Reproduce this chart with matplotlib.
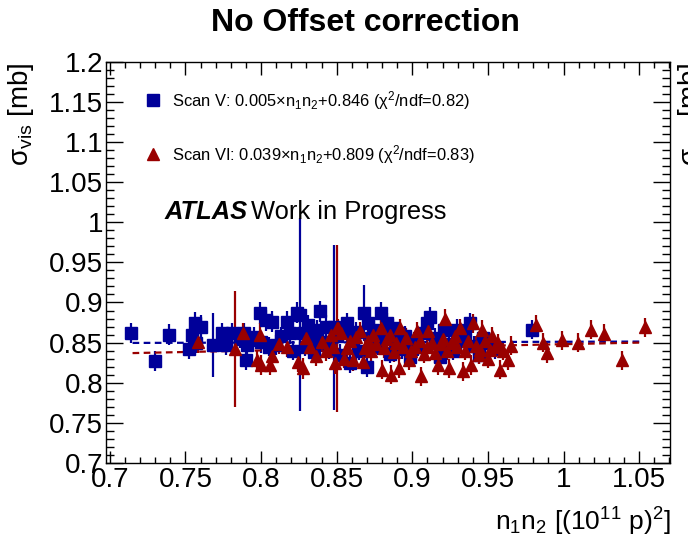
import matplotlib
matplotlib.use("Agg")
import matplotlib.pyplot as plt
from matplotlib.ticker import MultipleLocator

plt.rcParams['font.family'] = ['Liberation Sans', 'DejaVu Sans']
plt.rcParams['mathtext.fontset'] = 'custom'
plt.rcParams['mathtext.rm'] = 'Liberation Sans'
plt.rcParams['mathtext.it'] = 'Liberation Sans:italic'
plt.rcParams['mathtext.bf'] = 'Liberation Sans:bold'

# Scan V (blue squares): n1n2, sigma_vis, error
scan5_x = [0.714, 0.730, 0.739, 0.752, 0.754, 0.756, 0.757, 0.760,
           0.768, 0.774, 0.777, 0.781, 0.786, 0.789, 0.790, 0.791, 0.795, 0.799,
           0.800, 0.803, 0.805, 0.807, 0.810, 0.813, 0.817, 0.819, 0.821, 0.824, 0.826, 0.828, 0.829,
           0.831, 0.833, 0.835, 0.837, 0.839, 0.841, 0.843, 0.845, 0.848, 0.850, 0.852, 0.854, 0.857, 0.859,
           0.861, 0.863, 0.865, 0.868, 0.870, 0.871, 0.873, 0.875, 0.877, 0.879, 0.881, 0.883, 0.885,
           0.887, 0.889, 0.891, 0.893, 0.895, 0.8985,
           0.901, 0.904, 0.907, 0.9095, 0.912, 0.915, 0.918, 0.921, 0.924, 0.927, 0.9295, 0.932,
           0.935, 0.938, 0.941, 0.944, 0.947, 0.951, 0.955, 0.979]
scan5_y = [0.862, 0.827, 0.860, 0.842, 0.860, 0.874, 0.850, 0.870,
           0.847, 0.862, 0.847, 0.862, 0.855, 0.862, 0.828, 0.847, 0.857, 0.887,
           0.851, 0.878, 0.845, 0.876, 0.847, 0.858, 0.876, 0.862, 0.840, 0.887, 0.885, 0.862, 0.845,
           0.872, 0.855, 0.838, 0.866, 0.889, 0.851, 0.870, 0.842, 0.869, 0.858, 0.835, 0.866, 0.874, 0.825,
           0.852, 0.863, 0.840, 0.887, 0.820, 0.874, 0.856, 0.866, 0.846, 0.887, 0.860, 0.874, 0.836,
           0.868, 0.850, 0.862, 0.842, 0.858, 0.8325,
           0.851, 0.845, 0.862, 0.874, 0.882, 0.856, 0.8325, 0.866, 0.848, 0.840, 0.866, 0.852,
           0.860, 0.874, 0.846, 0.835, 0.856, 0.850, 0.842, 0.866]
scan5_err = [0.013, 0.012, 0.013, 0.012, 0.013, 0.014, 0.013, 0.014,
             0.040, 0.013, 0.012, 0.013, 0.012, 0.013, 0.012, 0.013, 0.012, 0.014,
             0.014, 0.013, 0.012, 0.013, 0.012, 0.012, 0.013, 0.014, 0.012, 0.013, 0.120, 0.013, 0.012,
             0.013, 0.012, 0.013, 0.012, 0.013, 0.012, 0.014, 0.013, 0.103, 0.012, 0.013, 0.012, 0.013, 0.013,
             0.012, 0.013, 0.012, 0.035, 0.013, 0.013, 0.012, 0.013, 0.012, 0.013, 0.012, 0.013, 0.012,
             0.012, 0.013, 0.012, 0.012, 0.013, 0.012,
             0.012, 0.012, 0.013, 0.013, 0.013, 0.012, 0.012, 0.012, 0.013, 0.012, 0.013, 0.012,
             0.012, 0.013, 0.012, 0.012, 0.012, 0.013, 0.012, 0.012]

# Scan VI (red triangles)
scan6_x = [0.758, 0.783, 0.788, 0.797, 0.799, 0.800, 0.806, 0.807, 0.812, 0.817,
           0.8244, 0.828, 0.830, 0.8324, 0.836, 0.840, 0.843, 0.846, 0.8476, 0.849,
           0.850, 0.851, 0.853, 0.855, 0.8566, 0.859, 0.861, 0.863, 0.8655, 0.8676,
           0.8688, 0.871, 0.873, 0.874, 0.876, 0.879, 0.880, 0.881, 0.883, 0.885,
           0.886, 0.888, 0.889, 0.891, 0.892, 0.894, 0.896, 0.8975, 0.899, 0.902,
           0.903, 0.905, 0.906, 0.908, 0.9095, 0.9106, 0.913, 0.915, 0.917, 0.919,
           0.9206, 0.9217, 0.923, 0.924, 0.926, 0.928, 0.9295, 0.9316, 0.9338, 0.935,
           0.937, 0.939, 0.940, 0.942, 0.944, 0.945, 0.946, 0.948, 0.950, 0.9515,
           0.953, 0.955, 0.957, 0.958, 0.960, 0.963, 0.965, 0.982, 0.9866, 0.989,
           0.999, 1.0095, 1.018, 1.0265, 1.0386, 1.0536]
scan6_y = [0.851, 0.842, 0.862, 0.828, 0.860, 0.822, 0.822, 0.833, 0.848, 0.845,
           0.826, 0.818, 0.856, 0.845, 0.833, 0.851, 0.839, 0.860, 0.845, 0.824,
           0.868, 0.868, 0.862, 0.830, 0.843, 0.852, 0.828, 0.857, 0.864, 0.826,
           0.843, 0.852, 0.839, 0.860, 0.848, 0.868, 0.816, 0.843, 0.855, 0.860,
           0.810, 0.838, 0.850, 0.818, 0.868, 0.845, 0.856, 0.828, 0.840, 0.845,
           0.864, 0.852, 0.808, 0.836, 0.845, 0.864, 0.850, 0.837, 0.822, 0.848,
           0.855, 0.880, 0.840, 0.818, 0.850, 0.858, 0.845, 0.868, 0.814, 0.840,
           0.852, 0.822, 0.874, 0.846, 0.835, 0.841, 0.866, 0.852, 0.830, 0.841,
           0.858, 0.845, 0.849, 0.816, 0.840, 0.828, 0.846, 0.872, 0.850, 0.837,
           0.853, 0.850, 0.866, 0.861, 0.828, 0.869]
scan6_err = [0.014, 0.072, 0.013, 0.013, 0.014, 0.013, 0.013, 0.013, 0.012, 0.013,
             0.013, 0.013, 0.012, 0.013, 0.012, 0.013, 0.012, 0.012, 0.013, 0.013,
             0.104, 0.012, 0.012, 0.012, 0.012, 0.012, 0.013, 0.012, 0.012, 0.012,
             0.012, 0.012, 0.012, 0.012, 0.012, 0.012, 0.012, 0.012, 0.012, 0.012,
             0.012, 0.012, 0.012, 0.012, 0.012, 0.012, 0.012, 0.012, 0.012, 0.012,
             0.012, 0.012, 0.012, 0.012, 0.012, 0.012, 0.012, 0.012, 0.012, 0.012,
             0.012, 0.012, 0.012, 0.012, 0.012, 0.012, 0.012, 0.012, 0.012, 0.012,
             0.012, 0.012, 0.012, 0.012, 0.012, 0.012, 0.012, 0.012, 0.012, 0.012,
             0.012, 0.012, 0.012, 0.012, 0.012, 0.012, 0.012, 0.012, 0.012, 0.012,
             0.012, 0.012, 0.012, 0.012, 0.012, 0.012]

# linear fits: slope, offset, fit range
fit5 = (0.005, 0.846)
fit6 = (0.039, 0.809)
fit_range = [0.715, 1.051]

blue = '#000099'
red = '#990000'

fig = plt.figure(figsize=(6.88, 5.49), dpi=100)
ax = fig.add_axes([0.154, 0.157, 0.820, 0.730])

ax.errorbar(scan5_x, scan5_y, yerr=scan5_err, fmt='s', color=blue, ms=8,
            elinewidth=1.6, capsize=0)
ax.errorbar(scan6_x, scan6_y, yerr=scan6_err, fmt='^', color=red, ms=9,
            elinewidth=1.6, capsize=0)

ax.plot(fit_range, [fit5[0] * x + fit5[1] for x in fit_range], '--', color=blue, lw=1.6, dashes=(3, 2))
ax.plot(fit_range, [fit6[0] * x + fit6[1] for x in fit_range], '--', color=red, lw=1.6, dashes=(3, 2))

ax.set_xlim(0.6974, 1.0705)
ax.set_ylim(0.7, 1.2)
ax.xaxis.set_major_locator(MultipleLocator(0.05))
ax.xaxis.set_minor_locator(MultipleLocator(0.01))
ax.yaxis.set_major_locator(MultipleLocator(0.05))
ax.yaxis.set_minor_locator(MultipleLocator(0.01))
ax.xaxis.set_major_formatter(plt.FuncFormatter(lambda v, p: ('%.2f' % v).rstrip('0').rstrip('.')))
ax.yaxis.set_major_formatter(plt.FuncFormatter(lambda v, p: ('%.2f' % v).rstrip('0').rstrip('.')))

ax.tick_params(which='both', direction='in', top=True, right=True, width=1, labelsize=20)
ax.tick_params(axis='x', which='major', length=9, pad=3)
ax.tick_params(axis='x', which='minor', length=4.5)
ax.tick_params(axis='y', which='major', length=12, pad=2)
ax.tick_params(axis='y', which='minor', length=6)
for s in ax.spines.values():
    s.set_linewidth(1)

# legend drawn as in ROOT
ax.plot([0.7285], [1.1525], 's', color=blue, ms=8)
ax.plot([0.7285], [1.085], '^', color=red, ms=8)
ax.text(0.741, 1.1525, r'Scan V: 0.005$\times$n$_1$n$_2$+0.846 (χ$^2$/ndf=0.82)',
        fontsize=11.9, va='center')
ax.text(0.741, 1.085, r'Scan VI: 0.039$\times$n$_1$n$_2$+0.809 (χ$^2$/ndf=0.83)',
        fontsize=11.9, va='center')

ax.text(0.736, 1.013, 'ATLAS', fontsize=18.4, fontweight='bold', fontstyle='italic', va='center')
ax.text(0.7935, 1.013, 'Work in Progress', fontsize=18.4, va='center')

fig.text(0.531, 0.958, 'No Offset correction', fontsize=23, fontweight='bold', ha='center', va='center')
fig.text(0.974, 0.02, r'n$_1$n$_2$ [(10$^{11}$ p)$^2$]', fontsize=19, ha='right', va='bottom')
ylab = r'σ$_{\rm vis}$ [mb]'
fig.text(0.008, 0.887, ylab, fontsize=20, rotation=90, ha='left', va='top')
# edge of the neighbouring panel
fig.text(0.982, 0.887, ylab, fontsize=20, rotation=90, ha='left', va='top')

fig.savefig('out.png', dpi=100)
